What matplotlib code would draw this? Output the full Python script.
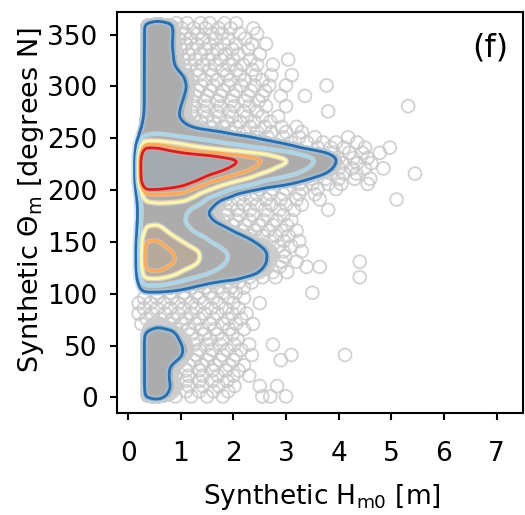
import numpy as np
import matplotlib.pyplot as plt

plt.rcParams['font.family'] = ['DejaVu Sans']

# gridded density of (Hm0, theta) samples
grid_h = [0.15, 0.3, 0.55, 0.8, 1.05, 1.3, 1.55, 1.8, 2.05, 2.3, 2.55,
          2.8, 3.05, 3.3, 3.55, 3.8, 4.05, 4.3]
grid_theta = list(range(-10, 371, 10))
density_rows = [
    [],                                                     # -10
    [1.05, 1.3, 0.8, 0.2],                                  # 0
    [1.1, 1.6, 1.0, 0.4],                                   # 10
    [1.1, 1.6, 0.9, 0.3],                                   # 20
    [1.1, 1.6, 0.95, 0.4],                                  # 30
    [1.1, 1.7, 1.5, 0.95, 0.4],                             # 40
    [1.1, 1.7, 1.5, 0.95, 0.4],                             # 50
    [1.1, 1.6, 1.4, 0.6, 0.3],                              # 60
    [0.6, 0.8, 0.6, 0.3],                                   # 70
    [0.4, 0.5, 0.4, 0.2],                                   # 80
    [0.3, 0.4, 0.3, 0.2],                                   # 90
    [0.3, 0.3, 0.3, 0.2],                                   # 100
    [3.5, 3.6, 2.8, 2.0, 1.3, 0.8, 0.6, 0.5],               # 110
    [8.5, 9.0, 7.5, 5.2, 4.0, 3.0, 2.2, 1.8, 1.4, 0.8, 0.4],  # 120
    [10, 10.5, 9.6, 8, 6.3, 4.5, 3.2, 2.5, 1.8, 1.2, 0.5],    # 130
    [10, 10.5, 9.5, 7.5, 6.5, 4.5, 3.3, 2.5, 1.8, 1.2, 0.6, 0.3],  # 140
    [9.3, 9.5, 7.5, 6.0, 4.5, 3.0, 2.2, 1.7, 1.2, 0.7, 0.4],  # 150
    [6.8, 7.0, 5.5, 3.8, 2.6, 1.9, 1.5, 0.9, 0.5],          # 160
    [5.2, 5.5, 4.8, 3.0, 2.0, 1.1, 0.6],                    # 170
    [4.8, 5.0, 4.5, 3.5, 1.5, 0.8, 0.5],                    # 180
    [5.8, 6.2, 6.3, 6.1, 4.5, 1.6, 0.4],                    # 190
    [11, 11, 10.5, 10, 7.5, 5.8, 3.5, 1.5, 0.8, 0.4],       # 200
    [21, 20, 17, 14.5, 12.5, 10, 8.5, 6.8, 5.2, 3.2, 2.6, 1.7, 1.0, 0.5, 0.2],  # 210
    [22, 21, 19, 17, 15.5, 14, 12.5, 11, 9.5, 7.5, 5.7, 5, 3.5, 2.2, 1.2, 0.4],  # 220
    [22, 21, 19, 17.5, 16.5, 15.5, 14, 12.8, 11, 9.5, 7.5, 6.3, 4.5, 3.2, 1.8, 0.6],  # 230
    [13, 12.5, 10, 8, 6.5, 5.5, 4.5, 3.8, 3.2, 2.6, 2.0, 1.4, 0.8, 0.4, 0.2],  # 240
    [3.5, 3.6, 3.4, 3.0, 2.6, 2.2, 1.8, 1.5, 1.1, 0.7, 0.4, 0.2],  # 250
    [1.6, 2.2, 1.8, 1.2, 0.8, 0.6, 0.4],                    # 260
    [1.2, 1.9, 1.3, 0.8, 0.4],                              # 270
    [1.1, 1.8, 1.4, 0.85, 0.3],                             # 280
    [1.1, 1.8, 1.6, 1.0, 0.4],                              # 290
    [1.1, 1.8, 1.7, 1.15, 0.45],                            # 300
    [1.1, 1.8, 1.6, 1.0, 0.4],                              # 310
    [1.1, 1.7, 1.2, 0.5],                                   # 320
    [1.1, 1.7, 1.15, 0.4],                                  # 330
    [1.1, 1.6, 1.1, 0.3],                                   # 340
    [1.1, 1.6, 1.15, 0.3],                                  # 350
    [1.1, 1.5, 1.15, 0.2],                                  # 360
    [],                                                     # 370
]
levels = [1, 3, 6, 9, 12]
level_colors = ['#2b6cab', '#a9d6ea', '#fff6b0', '#f9a95e', '#d42020']
glow_colors = ['#9ccbec', '#d6eef7', '#fffbd8', '#fbd3a8', '#f19a8e']
glow_widths = [5, 3.5, 4, 3.5, 4]

# individual samples outside the dense core (theta, list of Hm0)
cloud_rows = [
    (361, [0.92, 1.12, 1.38, 1.55, 1.83, 2.05]),
    (356, [1.02, 1.25, 1.47, 1.72, 1.95, 2.38]),
    (351, [0.88, 1.08, 1.33, 1.6, 1.78, 2.12, 2.45]),
    (346, [0.97, 1.18, 1.42, 1.66, 1.9, 2.22]),
    (341, [0.9, 1.1, 1.3, 1.55, 1.82, 2.05, 2.35, 2.62]),
    (336, [1.0, 1.22, 1.47, 1.7, 1.98, 2.28]),
    (331, [0.93, 1.15, 1.37, 1.6, 1.85, 2.1, 2.5]),
    (326, [1.05, 1.28, 1.52, 1.76, 2.0, 2.32, 3.04]),
    (321, [0.95, 1.17, 1.42, 1.66, 1.92, 2.18, 2.45, 2.75]),
    (316, [1.08, 1.3, 1.55, 1.8, 2.06, 2.36]),
    (311, [1.12, 1.35, 1.6, 1.87, 2.12, 2.42, 2.72, 3.11]),
    (306, [1.2, 1.46, 1.7, 1.95, 2.22, 2.55]),
    (301, [1.15, 1.38, 1.62, 1.9, 2.15, 2.4, 2.68, 3.0, 3.77]),
    (296, [1.1, 1.32, 1.56, 1.8, 2.05, 2.33, 2.6]),
    (291, [1.05, 1.27, 1.5, 1.75, 2.0, 2.28, 2.55, 2.9, 3.36]),
    (286, [1.0, 1.22, 1.45, 1.7, 1.96, 2.22, 2.48]),
    (281, [1.03, 1.25, 1.5, 1.76, 2.02, 2.3, 2.62, 3.0, 5.32]),
    (276, [0.98, 1.2, 1.43, 1.68, 1.93, 2.2, 2.45, 3.8]),
    (271, [1.02, 1.25, 1.5, 1.72, 1.98, 2.26, 2.55, 2.85]),
    (266, [1.15, 1.38, 1.62, 1.88, 2.13, 2.4, 2.7]),
    (261, [1.3, 1.55, 1.8, 2.05, 2.32, 2.6, 2.92, 3.2]),
    (256, [1.7, 1.95, 2.2, 2.45, 2.72, 3.0, 3.3]),
    (251, [2.4, 2.65, 2.95, 3.25, 3.55, 4.18]),
    (246, [3.1, 3.4, 3.7, 3.95, 4.35]),
    (241, [3.6, 3.85, 4.1, 4.5, 4.97]),
    (236, [3.9, 4.2, 4.45, 4.78]),
    (231, [4.0, 4.28, 4.55]),
    (226, [4.08, 4.35, 4.62]),
    (221, [4.0, 4.25, 4.5, 4.85]),
    (216, [3.85, 4.1, 4.34, 5.45]),
    (211, [3.5, 3.75, 4.0, 4.3, 4.6]),
    (206, [3.25, 3.5, 3.8, 4.05, 4.55]),
    (201, [2.5, 2.75, 3.0, 3.3, 3.6, 3.95]),
    (196, [2.2, 2.45, 2.7, 2.95, 3.25, 3.55]),
    (191, [1.85, 2.1, 2.35, 2.62, 2.9, 3.2, 3.64, 5.1]),
    (186, [1.7, 1.95, 2.2, 2.45, 2.72, 3.0, 3.3]),
    (181, [1.6, 1.85, 2.08, 2.32, 2.6, 2.88, 3.15, 3.8]),
    (176, [1.62, 1.88, 2.12, 2.38, 2.65, 2.95]),
    (171, [1.8, 2.05, 2.3, 2.56, 2.82, 3.1]),
    (166, [1.98, 2.22, 2.48, 2.75, 3.02]),
    (161, [2.15, 2.4, 2.66, 2.92, 3.2]),
    (156, [2.3, 2.55, 2.8, 3.05]),
    (151, [2.45, 2.7, 2.96, 3.25]),
    (146, [2.6, 2.85, 3.1]),
    (141, [2.7, 2.95, 3.3]),
    (136, [2.72, 2.98]),
    (131, [2.68, 2.93, 3.2, 4.4]),
    (126, [2.62, 2.88, 3.39, 3.64]),
    (121, [2.5, 2.75, 3.02]),
    (116, [2.3, 2.55, 2.8, 4.4]),
    (111, [1.6, 1.85, 2.1, 2.35]),
    (106, [1.2, 1.45, 1.7, 1.95, 2.2]),
    (101, [0.55, 0.8, 1.05, 1.3, 1.55, 1.8, 2.05, 3.5]),
    (96, [0.3, 0.55, 0.82, 1.08, 1.35, 1.62, 1.9, 2.2]),
    (91, [0.2, 0.42, 0.68, 0.95, 1.2, 1.45, 1.72, 2.0, 2.5]),
    (86, [0.3, 0.55, 0.8, 1.05, 1.3, 1.58, 1.85, 2.1]),
    (81, [0.2, 0.45, 0.7, 0.95, 1.2, 1.45, 1.7, 1.98, 2.25]),
    (76, [0.35, 0.6, 0.85, 1.1, 1.35, 1.62, 1.9, 2.15]),
    (71, [0.25, 0.5, 0.78, 1.02, 1.28, 1.55, 1.8, 2.05, 2.37]),
    (66, [0.9, 1.15, 1.4, 1.65, 1.92, 2.2]),
    (61, [0.95, 1.2, 1.45, 1.7, 1.98]),
    (56, [1.05, 1.3, 1.55, 1.8, 2.08]),
    (51, [1.0, 1.25, 1.5, 1.75, 2.02, 2.3, 2.75]),
    (46, [1.1, 1.35, 1.6, 1.88, 2.15]),
    (41, [1.05, 1.3, 1.55, 1.8, 2.05, 2.35, 3.1, 4.12]),
    (36, [1.0, 1.25, 1.5, 1.75, 2.0, 2.9]),
    (31, [0.9, 1.15, 1.4, 1.65, 1.92, 2.2]),
    (26, [0.85, 1.1, 1.35, 1.6, 1.85, 2.1]),
    (21, [0.9, 1.15, 1.42, 1.7, 2.0, 2.3]),
    (16, [0.85, 1.1, 1.35, 1.6, 1.88]),
    (11, [0.9, 1.15, 1.42, 1.72, 2.02, 2.5, 2.83]),
    (6, [0.85, 1.1, 1.35, 1.62, 1.9]),
    (1, [0.9, 1.2, 1.5, 1.8, 2.55, 2.7, 3.0]),
]

ncol = len(grid_h)
Z = np.array([[0.0] + r + [0.0] * (ncol - 1 - len(r)) for r in density_rows])

# resample onto a fine grid and smooth lightly (binned KDE look)
hf = np.arange(0.0, 4.8, 0.02)
tf = np.arange(-20.0, 381.0, 1.0)
Zh = np.array([np.interp(hf, grid_h, row, left=0, right=0) for row in Z])
Zf = np.array([np.interp(tf, grid_theta, col, left=0, right=0) for col in Zh.T]).T


def blur(a, sigma, axis):
    k = np.arange(-3 * sigma, 3 * sigma + 1)
    k = np.exp(-0.5 * (k / sigma) ** 2)
    k /= k.sum()
    return np.apply_along_axis(lambda v: np.convolve(v, k, mode='same'), axis, a)


Zf = blur(blur(Zf, 2.5, 1), 3.0, 0)
HF, TF = np.meshgrid(hf, tf)

pts_h = [h for t, hs in cloud_rows for h in hs]
pts_t = [t for t, hs in cloud_rows for h in hs]

fig = plt.figure(figsize=(5.25, 5.15), dpi=100)
ax = fig.add_axes([0.223, 0.198, 0.773, 0.779])

ax.scatter(pts_h, pts_t, s=85, facecolors='none', edgecolors='#c6c6c6',
           linewidths=1.4, alpha=0.75, zorder=1)

ax.contourf(HF, TF, Zf, levels=[0.55, 0.85], colors=['#cdcdcd'], zorder=2)
ax.contourf(HF, TF, Zf, levels=[0.85, 100], colors=['#acacac'], zorder=2)
ax.contourf(HF, TF, Zf, levels=[6, 12], colors=['#e8a060'], alpha=0.2, zorder=2)
ax.contourf(HF, TF, Zf, levels=[12, 100], colors=['#a5aab1'], zorder=2)
for lev, gc, gw in zip(levels, glow_colors, glow_widths):
    ax.contour(HF, TF, Zf, levels=[lev], colors=[gc], linewidths=gw,
               alpha=0.5, zorder=3)
ax.contour(HF, TF, Zf, levels=levels, colors=level_colors, linewidths=2,
           zorder=4)

ax.set_xlim(-0.21, 7.5)
ax.set_ylim(-15, 372)
ax.set_xticks(range(0, 8))
ax.set_yticks(range(0, 351, 50))
ax.tick_params(direction='out', length=5, width=1.5, labelsize=19)
ax.tick_params(axis='x', pad=15)
ax.tick_params(axis='y', pad=9)
for sp in ax.spines.values():
    sp.set_linewidth(1.5)

ax.set_xlabel('Synthetic H$_{\\mathregular{m0}}$ [m]', fontsize=19)
ax.xaxis.set_label_coords(0.505, -0.172)
ax.set_ylabel('Synthetic \u0398$_{\\mathregular{m}}$ [degrees N]', fontsize=19.5)
ax.yaxis.set_label_coords(-0.175, 0.53)
ax.text(0.92, 0.91, '(f)', transform=ax.transAxes, fontsize=23,
        ha='center', va='center')

fig.savefig('out.png', dpi=100)
